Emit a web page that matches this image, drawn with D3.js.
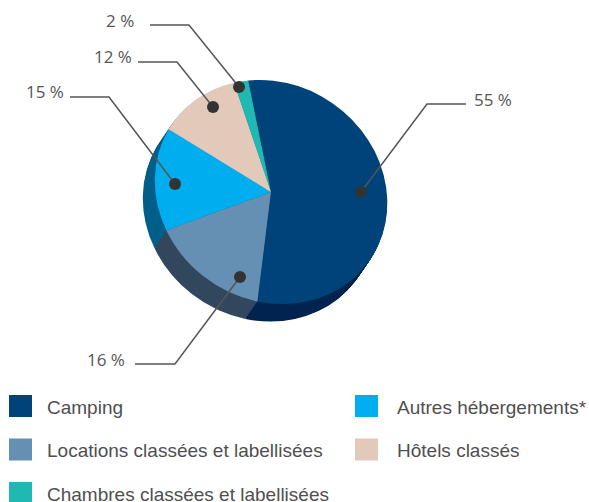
<!DOCTYPE html>
<html>
<head>
<meta charset="utf-8">
<script src="https://cdn.jsdelivr.net/npm/d3@7"></script>
<style>
  html, body { margin: 0; padding: 0; background: #fff; overflow: hidden; }
  .legendText { font-family: "Liberation Sans", Arial, sans-serif; font-size: 19px; fill: #4f4f4f; }
  .pctText { font-family: "Open Sans", sans-serif; font-size: 17px; fill: #555; }
</style>
</head>
<body>
<div class="svg_area"></div>
<script>
// Categories and values
var categories = ["Camping", "Locations classées et labellisées", "Autres hébergements*", "Hôtels classés", "Chambres classées et labellisées"];
var values = [55, 16, 15, 12, 2];

var colors = ["#00437a", "#6590b4", "#00aeef", "#e3c9b9", "#20b8b2"];
var darkColors = ["#002550", "#33485f", "#005f8a", "#a08c80", "#14807c"];

// Legend column and row of each category
var legendColumn = [0, 0, 1, 1, 0];
var legendRow = [0, 1, 0, 1, 2];

var svgWidth = 589;
var svgHeight = 502;

var svg = d3.select(".svg_area")
  .append("svg")
  .attr("width", svgWidth)
  .attr("height", svgHeight)
  .style("display", "block");

// Pie geometry: the top face is a slightly tilted ellipse
var cx = 271, cy = 192, rMajor = 120, rMinor = 108, tilt = 35;
var depthX = -12, depthY = 17.5, depthSteps = 24;

function faceTransform(dx, dy) {
  return `translate(${cx + dx}, ${cy + dy}) rotate(${tilt}) scale(${rMajor}, ${rMinor}) rotate(${-tilt})`;
}

var pie = d3.pie()
  .sort(null)
  .startAngle(-8.5 * Math.PI / 180)
  .endAngle(351.5 * Math.PI / 180);
var arcs = pie(values);
var arc = d3.arc().innerRadius(0).outerRadius(1);

// Extruded side: dark copies stacked from the back to the front
for (var s = depthSteps; s > 0; s--) {
  var t = s / depthSteps;
  svg.append("g")
    .attr("transform", faceTransform(depthX * t, depthY * t))
    .selectAll("path")
    .data(arcs)
    .enter()
    .append("path")
    .attr("d", arc)
    .attr("fill", (d, i) => darkColors[i]);
}

// Top face
svg.append("g")
  .attr("transform", faceTransform(0, 0))
  .selectAll("path")
  .data(arcs)
  .enter()
  .append("path")
  .attr("d", arc)
  .attr("fill", (d, i) => colors[i]);

// Leader lines: label anchor, start of the line, elbow, dot
var callouts = [
  { text: [474, 106], line: [[466, 104], [427, 104], [361, 192]] },
  { text: [87, 366], line: [[135, 364], [175, 364], [240, 277]] },
  { text: [26, 98], line: [[70, 97], [109, 97], [175, 184]] },
  { text: [94, 63], line: [[138, 62], [177, 62], [213, 107]] },
  { text: [106, 27], line: [[150, 25], [189, 25], [239, 87]] }
];

var lineGen = d3.line();

callouts.forEach(function(c, i) {
  svg.append("path")
    .attr("d", lineGen(c.line))
    .attr("fill", "none")
    .attr("stroke", "#555")
    .attr("stroke-width", 1.5);

  svg.append("circle")
    .attr("cx", c.line[2][0])
    .attr("cy", c.line[2][1])
    .attr("r", 6)
    .attr("fill", "#333");

  svg.append("text")
    .attr("class", "pctText")
    .attr("x", c.text[0])
    .attr("y", c.text[1])
    .text(values[i] + " %");
});

// Legend
var xSwatch = d3.scaleOrdinal().domain([0, 1]).range([9, 355]);
var xLabel = d3.scaleOrdinal().domain([0, 1]).range([47, 397]);
var yLegend = d3.scaleLinear().domain([0, 2]).range([395, 482]);

categories.forEach(function(name, i) {
  svg.append("rect")
    .attr("x", xSwatch(legendColumn[i]))
    .attr("y", yLegend(legendRow[i]))
    .attr("width", 23)
    .attr("height", 22)
    .attr("fill", colors[i]);

  svg.append("text")
    .attr("class", "legendText")
    .attr("x", xLabel(legendColumn[i]))
    .attr("y", yLegend(legendRow[i]) + 18.5)
    .text(name);
});
</script>
</body>
</html>
